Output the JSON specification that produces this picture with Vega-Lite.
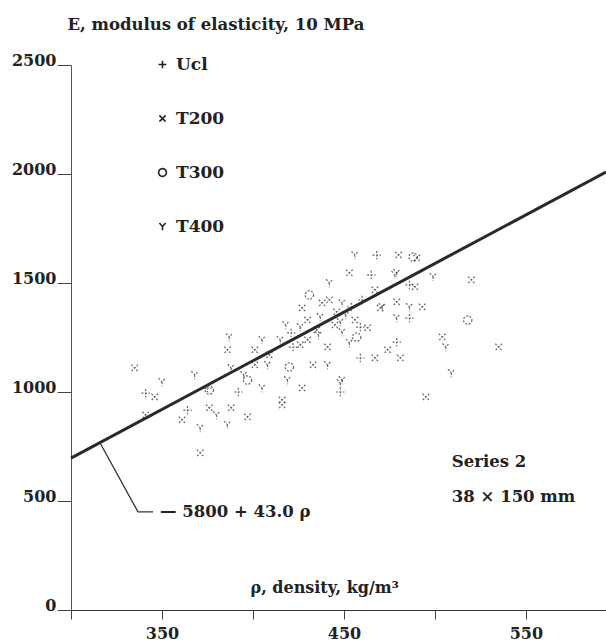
{
  "$schema": "https://vega.github.io/schema/vega-lite/v6.json",
  "width": 535,
  "height": 545,
  "autosize": "none",
  "padding": {"left": 71, "top": 65, "right": 0, "bottom": 33},
  "background": "white",
  "config": {"view": {"stroke": null}, "font": "DejaVu Serif"},
  "layer": [
    {
      "data": {"values": [
        {"rho": 335, "E": 1110, "series": "T200"},
        {"rho": 350, "E": 1046, "series": "T400"},
        {"rho": 341, "E": 995, "series": "Ucl"},
        {"rho": 346, "E": 977, "series": "T200"},
        {"rho": 368, "E": 1078, "series": "T400"},
        {"rho": 376, "E": 1009, "series": "T300"},
        {"rho": 376, "E": 927, "series": "T200"},
        {"rho": 380, "E": 894, "series": "T400"},
        {"rho": 364, "E": 917, "series": "Ucl"},
        {"rho": 361, "E": 872, "series": "T200"},
        {"rho": 371, "E": 835, "series": "T400"},
        {"rho": 371, "E": 720, "series": "T200"},
        {"rho": 388, "E": 927, "series": "T200"},
        {"rho": 386, "E": 849, "series": "T400"},
        {"rho": 392, "E": 1000, "series": "Ucl"},
        {"rho": 397, "E": 885, "series": "T200"},
        {"rho": 388, "E": 1110, "series": "T400"},
        {"rho": 397, "E": 1055, "series": "T300"},
        {"rho": 401, "E": 1124, "series": "T200"},
        {"rho": 395, "E": 1078, "series": "T400"},
        {"rho": 375, "E": 1018, "series": "Ucl"},
        {"rho": 341, "E": 894, "series": "T200"},
        {"rho": 387, "E": 1252, "series": "T400"},
        {"rho": 386, "E": 1193, "series": "T200"},
        {"rho": 401, "E": 1193, "series": "T200"},
        {"rho": 456, "E": 1628, "series": "T400"},
        {"rho": 465, "E": 1537, "series": "Ucl"},
        {"rho": 453, "E": 1546, "series": "T200"},
        {"rho": 442, "E": 1500, "series": "T400"},
        {"rho": 431, "E": 1445, "series": "T300"},
        {"rho": 438, "E": 1408, "series": "T200"},
        {"rho": 449, "E": 1408, "series": "T400"},
        {"rho": 454, "E": 1390, "series": "Ucl"},
        {"rho": 446, "E": 1367, "series": "T200"},
        {"rho": 437, "E": 1344, "series": "T400"},
        {"rho": 427, "E": 1385, "series": "T200"},
        {"rho": 430, "E": 1330, "series": "T200"},
        {"rho": 448, "E": 1321, "series": "T400"},
        {"rho": 459, "E": 1298, "series": "Ucl"},
        {"rho": 463, "E": 1294, "series": "T200"},
        {"rho": 449, "E": 1275, "series": "T400"},
        {"rho": 457, "E": 1252, "series": "T300"},
        {"rho": 441, "E": 1206, "series": "T200"},
        {"rho": 453, "E": 1225, "series": "T400"},
        {"rho": 422, "E": 1206, "series": "Ucl"},
        {"rho": 430, "E": 1239, "series": "T200"},
        {"rho": 415, "E": 1239, "series": "T400"},
        {"rho": 470, "E": 1385, "series": "T200"},
        {"rho": 474, "E": 1193, "series": "T200"},
        {"rho": 426, "E": 1298, "series": "T400"},
        {"rho": 421, "E": 1271, "series": "Ucl"},
        {"rho": 435, "E": 1284, "series": "T200"},
        {"rho": 408, "E": 1124, "series": "T400"},
        {"rho": 420, "E": 1115, "series": "T300"},
        {"rho": 433, "E": 1124, "series": "T200"},
        {"rho": 449, "E": 1055, "series": "T400"},
        {"rho": 448, "E": 1000, "series": "Ucl"},
        {"rho": 427, "E": 1018, "series": "T200"},
        {"rho": 419, "E": 1055, "series": "T400"},
        {"rho": 416, "E": 940, "series": "T200"},
        {"rho": 416, "E": 963, "series": "T200"},
        {"rho": 405, "E": 1018, "series": "T400"},
        {"rho": 459, "E": 1156, "series": "Ucl"},
        {"rho": 467, "E": 1156, "series": "T200"},
        {"rho": 441, "E": 1124, "series": "T400"},
        {"rho": 488, "E": 1619, "series": "T300"},
        {"rho": 480, "E": 1628, "series": "T200"},
        {"rho": 479, "E": 1546, "series": "T400"},
        {"rho": 486, "E": 1491, "series": "Ucl"},
        {"rho": 489, "E": 1482, "series": "T200"},
        {"rho": 499, "E": 1528, "series": "T400"},
        {"rho": 520, "E": 1514, "series": "T200"},
        {"rho": 479, "E": 1413, "series": "T200"},
        {"rho": 486, "E": 1390, "series": "T400"},
        {"rho": 486, "E": 1339, "series": "Ucl"},
        {"rho": 493, "E": 1390, "series": "T200"},
        {"rho": 479, "E": 1339, "series": "T400"},
        {"rho": 518, "E": 1330, "series": "T300"},
        {"rho": 504, "E": 1252, "series": "T200"},
        {"rho": 506, "E": 1206, "series": "T400"},
        {"rho": 479, "E": 1229, "series": "Ucl"},
        {"rho": 535, "E": 1206, "series": "T200"},
        {"rho": 509, "E": 1087, "series": "T400"},
        {"rho": 495, "E": 977, "series": "T200"},
        {"rho": 481, "E": 1156, "series": "T200"},
        {"rho": 448, "E": 1041, "series": "T400"},
        {"rho": 468, "E": 1628, "series": "Ucl"},
        {"rho": 490, "E": 1615, "series": "T200"},
        {"rho": 471, "E": 1390, "series": "T400"},
        {"rho": 442, "E": 1422, "series": "T200"},
        {"rho": 451, "E": 1353, "series": "T400"},
        {"rho": 445, "E": 1307, "series": "T200"},
        {"rho": 436, "E": 1261, "series": "T400"},
        {"rho": 456, "E": 1330, "series": "T200"},
        {"rho": 460, "E": 1422, "series": "Ucl"},
        {"rho": 426, "E": 1216, "series": "T200"},
        {"rho": 418, "E": 1307, "series": "T400"},
        {"rho": 409, "E": 1170, "series": "T200"},
        {"rho": 405, "E": 1239, "series": "T400"},
        {"rho": 467, "E": 1468, "series": "T200"},
        {"rho": 478, "E": 1537, "series": "T400"}
      ]},
      "mark": {"type": "point", "filled": false, "stroke": "#333", "strokeWidth": 1.2, "strokeDash": [2, 1.5], "size": 70, "opacity": 0.75},
      "encoding": {
        "x": {
          "field": "rho", "type": "quantitative",
          "scale": {"domain": [300, 594], "nice": false, "zero": false},
          "axis": {
            "values": [300, 350, 400, 450, 500, 550],
            "labelExpr": "datum.value % 100 == 50 ? datum.label : ''",
            "grid": false, "tickSize": 9, "labelPadding": 6,
            "labelFontSize": 16, "labelFontWeight": "bold", "labelColor": "#222",
            "domainColor": "#333", "tickColor": "#444",
            "title": "ρ, density, kg/m³", "titleX": 179, "titleY": -18,
            "titleAlign": "left", "titleBaseline": "alphabetic",
            "titleFontSize": 16, "titleFontWeight": "bold", "titleColor": "#222"
          }
        },
        "y": {
          "field": "E", "type": "quantitative",
          "scale": {"domain": [0, 2500], "nice": false},
          "axis": {
            "values": [0, 500, 1000, 1500, 2000, 2500],
            "format": "d",
            "grid": false, "tickSize": 14, "labelPadding": 1,
            "labelBaseline": "alphabetic",
            "labelFontSize": 16, "labelFontWeight": "bold", "labelColor": "#222",
            "domainColor": "#555", "tickColor": "#444",
            "title": "E, modulus of elasticity, 10 MPa",
            "titleAngle": 0, "titleAlign": "left", "titleBaseline": "alphabetic",
            "titleX": -4, "titleY": -36,
            "titleFontSize": 16.5, "titleFontWeight": "bold", "titleColor": "#222"
          }
        },
        "shape": {
          "field": "series", "type": "nominal",
          "scale": {
            "domain": ["Ucl", "T200", "T300", "T400"],
            "range": ["M-1,0L1,0M0,-1L0,1", "M-0.8,-0.8L0.8,0.8M0.8,-0.8L-0.8,0.8", "circle", "M-0.8,-0.9L0,0L0.8,-0.9M0,0L0,1"]
          },
          "legend": {
            "orient": "none", "legendX": 83, "legendY": -9, "title": null,
            "padding": 0, "labelFontSize": 17, "labelFontWeight": "bold",
            "labelColor": "#222", "labelOffset": 5, "rowPadding": 36,
            "symbolSize": 60, "symbolStrokeColor": "#222", "symbolStrokeWidth": 1.6,
            "symbolDash": [1, 0], "symbolOpacity": 1
          }
        }
      }
    },
    {
      "data": {"values": [{"rho": 300, "E": 697}, {"rho": 594, "E": 2009}]},
      "mark": {"type": "line", "color": "#2a2a2a", "strokeWidth": 3},
      "encoding": {
        "x": {"field": "rho", "type": "quantitative"},
        "y": {"field": "E", "type": "quantitative"}
      }
    },
    {
      "data": {"values": [{"rho": 316, "E": 766, "k": 1}, {"rho": 336.8, "E": 450, "k": 2}, {"rho": 345.1, "E": 450, "k": 3}]},
      "mark": {"type": "line", "color": "#333", "strokeWidth": 1.3},
      "encoding": {
        "x": {"field": "rho", "type": "quantitative"},
        "y": {"field": "E", "type": "quantitative"},
        "order": {"field": "k"}
      }
    },
    {
      "data": {"values": [
        {"rho": 348.9, "E": 427, "label": "— 5800 + 43.0 ρ"},
        {"rho": 509.3, "E": 656, "label": "Series 2"},
        {"rho": 509.3, "E": 495, "label": "38 × 150 mm"}
      ]},
      "mark": {"type": "text", "align": "left", "baseline": "alphabetic", "fontSize": 16.5, "fontWeight": "bold", "color": "#222"},
      "encoding": {
        "x": {"field": "rho", "type": "quantitative"},
        "y": {"field": "E", "type": "quantitative"},
        "text": {"field": "label"}
      }
    }
  ]
}
